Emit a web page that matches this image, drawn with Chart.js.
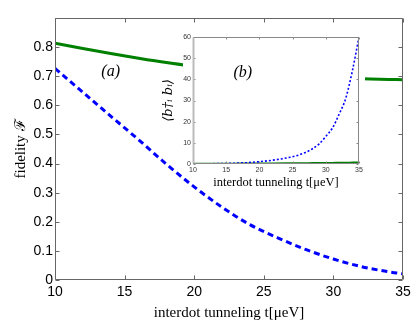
<!DOCTYPE html>
<html>
<head>
<meta charset="UTF-8">
<title>fidelity</title>
<style>
	html, body { margin: 0; padding: 0; background: #fff; }
	#wrap { position: relative; width: 415px; height: 325px; }
	#mainChart { position: absolute; left: 0; top: 0; }
	#insetChart { position: absolute; left: 155px; top: 26px; }
</style>
</head>
<body>
	<div id="wrap">
		<canvas id="mainChart" width="415" height="325"></canvas>
		<canvas id="insetChart" width="215" height="170"></canvas>
	</div>

	<script src="https://cdn.jsdelivr.net/npm/chart.js"></script>

	<script>
		// main panel (a): fidelity vs interdot tunneling
		const tMain = [10, 12, 14, 16, 18, 20, 22, 24, 26, 28, 30, 32, 34, 35];
		const fidelityGreen = [0.813, 0.795, 0.778, 0.762, 0.747, 0.734, 0.722, 0.712, 0.704, 0.698, 0.694, 0.691, 0.689, 0.688];
		const fidelityBlue = [0.727, 0.645, 0.563, 0.482, 0.398, 0.320, 0.250, 0.190, 0.145, 0.105, 0.072, 0.046, 0.028, 0.021];
		const mainXTicks = [10, 15, 20, 25, 30, 35];

		// inset (b): phonon occupation
		const tInset = [10, 12, 14, 16, 18, 20, 22, 24, 26, 28, 29, 30, 31, 32, 33, 34, 35];
		const occBlue = [0.05, 0.1, 0.2, 0.35, 0.6, 1.1, 1.8, 2.8, 4.3, 7.2, 9.5, 13, 17, 23.5, 31, 44, 60];
		const occGreen = [0.1, 0.12, 0.14, 0.16, 0.2, 0.24, 0.28, 0.32, 0.36, 0.42, 0.45, 0.48, 0.52, 0.56, 0.6, 0.65, 0.7];

		const pts = (xs, ys) => xs.map((x, i) => ({x: x, y: ys[i]}));

		// box around the plot with inward ticks (MATLAB style)
		const boxTicks = {
			id: 'boxTicks',
			beforeDraw(chart, args, opts) {
				if (!opts.white) return;
				const a = chart.chartArea, ctx = chart.ctx;
				ctx.save();
				ctx.fillStyle = '#fff';
				ctx.fillRect(a.left - 10, a.top - 8, a.right - a.left + 16, a.bottom - a.top + 14);
				ctx.restore();
			},
			afterDraw(chart, args, opts) {
				const {ctx, chartArea: a, scales: {x, y}} = chart;
				const len = opts.len;
				const L = Math.round(a.left) + 0.5, R = Math.round(a.right) - 0.5;
				const T = Math.round(a.top) + 0.5, B = Math.round(a.bottom) - 0.5;
				ctx.save();
				ctx.strokeStyle = opts.color;
				ctx.lineWidth = 1;
				ctx.beginPath();
				x.ticks.forEach(t => {
					const px = Math.round(x.getPixelForValue(t.value)) + 0.5;
					ctx.moveTo(px, B); ctx.lineTo(px, B - len);
					ctx.moveTo(px, T); ctx.lineTo(px, T + len);
				});
				y.ticks.forEach(t => {
					const py = Math.round(y.getPixelForValue(t.value)) + 0.5;
					ctx.moveTo(L, py); ctx.lineTo(L + len, py);
					ctx.moveTo(R, py); ctx.lineTo(R - len, py);
				});
				ctx.moveTo(L, T); ctx.lineTo(R, T); ctx.lineTo(R, B); ctx.lineTo(L, B); ctx.closePath();
				ctx.stroke();
				if (opts.leftColor) {
					ctx.strokeStyle = opts.leftColor;
					ctx.lineWidth = 2;
					ctx.beginPath();
					ctx.moveTo(L, T); ctx.lineTo(L, B);
					ctx.stroke();
				}
				ctx.restore();
			}
		};

		// panel letter, placed in data coordinates
		const panelLabel = {
			id: 'panelLabel',
			afterDatasetsDraw(chart, args, opts) {
				const {ctx, scales: {x, y}} = chart;
				ctx.save();
				ctx.font = opts.font;
				ctx.fillStyle = '#000';
				ctx.textAlign = 'center';
				ctx.textBaseline = 'middle';
				ctx.fillText(opts.text, x.getPixelForValue(opts.x), y.getPixelForValue(opts.y));
				ctx.restore();
			}
		};

		const mainChart = new Chart(document.getElementById('mainChart'), {
			type: 'line',
			data: {
				datasets: [{
					data: pts(tMain, fidelityGreen),
					borderColor: '#008000',
					borderWidth: 3,
					pointRadius: 0,
					cubicInterpolationMode: 'monotone'
				}, {
					data: pts(tMain, fidelityBlue),
					borderColor: '#0000ff',
					borderWidth: 3,
					borderDash: [6, 4],
					pointRadius: 0,
					cubicInterpolationMode: 'monotone'
				}]
			},
			options: {
				responsive: false,
				animation: false,
				layout: { padding: { left: 0, right: 12, top: 18, bottom: 3 } },
				scales: {
					x: {
						type: 'linear',
						min: 10, max: 35,
						afterFit: s => { s.height = 42; },
						afterBuildTicks: s => { s.ticks = mainXTicks.map(v => ({value: v})); },
						grid: { display: false, drawTicks: false },
						border: { display: false },
						ticks: {
							padding: 4,
							color: '#000',
							font: { family: 'Liberation Sans', size: 14 },
							callback: v => String(v)
						},
						title: {
							display: true,
							text: 'interdot tunneling t[μeV]',
							color: '#000',
							font: { family: 'Liberation Serif', size: 15 },
							padding: { top: 0, bottom: 0 }
						}
					},
					y: {
						min: 0, max: 0.9,
						afterFit: s => { s.width = 55; },
						grid: { display: false, drawTicks: false },
						border: { display: false },
						ticks: {
							stepSize: 0.1,
							padding: 2,
							color: '#000',
							font: { family: 'Liberation Sans', size: 14 },
							callback: v => Math.abs(v - 0.9) < 1e-6 ? '' : (v === 0 ? '0' : v.toFixed(1))
						},
						title: {
							display: true,
							text: 'fidelity ℱ',
							color: '#000',
							font: { family: 'Liberation Serif', size: 15 },
							padding: { top: 12, bottom: 0 }
						}
					}
				},
				plugins: {
					legend: { display: false },
					tooltip: { enabled: false },
					boxTicks: { color: '#666', len: 4 },
					panelLabel: { text: '(a)', x: 14, y: 0.714, font: 'italic 16px "Liberation Serif"' }
				}
			},
			plugins: [boxTicks, panelLabel]
		});

		const insetChart = new Chart(document.getElementById('insetChart'), {
			type: 'line',
			data: {
				datasets: [{
					data: pts(tInset, occBlue),
					borderColor: '#0000ff',
					borderWidth: 1.6,
					borderDash: [2, 2],
					pointRadius: 0,
					cubicInterpolationMode: 'monotone'
				}, {
					data: pts(tInset, occGreen),
					borderColor: '#008000',
					borderWidth: 2,
					pointRadius: 0,
					cubicInterpolationMode: 'monotone'
				}]
			},
			options: {
				responsive: false,
				animation: false,
				layout: { padding: { left: 0, right: 11, top: 11, bottom: 0 } },
				scales: {
					x: {
						type: 'linear',
						min: 10, max: 35,
						afterFit: s => { s.height = 32; },
						grid: { display: false, drawTicks: false },
						border: { display: false },
						ticks: {
							stepSize: 5,
							padding: 2,
							color: '#333',
							font: { family: 'Liberation Sans', size: 7 }
						},
						title: {
							display: true,
							text: 'interdot tunneling t[μeV]',
							color: '#000',
							font: { family: 'Liberation Serif', size: 12.5 },
							padding: { top: 0, bottom: 6 }
						}
					},
					y: {
						min: 0, max: 60,
						afterFit: s => { s.width = 38; },
						grid: { display: false, drawTicks: false },
						border: { display: false },
						ticks: {
							stepSize: 10,
							padding: 2,
							color: '#333',
							font: { family: 'Liberation Sans', size: 7 }
						},
						title: {
							display: true,
							text: '⟨b†ᵢ bᵢ⟩',
							color: '#000',
							font: { family: 'DejaVu Serif', size: 13, style: 'italic' },
							padding: { top: 6, bottom: 0 }
						}
					}
				},
				plugins: {
					legend: { display: false },
					tooltip: { enabled: false },
					boxTicks: { color: '#888', len: 2, white: true, leftColor: '#bbb' },
					panelLabel: { text: '(b)', x: 17.5, y: 43, font: 'italic 16px "Liberation Serif"' }
				}
			},
			plugins: [boxTicks, panelLabel]
		});
	</script>
</body>
</html>
